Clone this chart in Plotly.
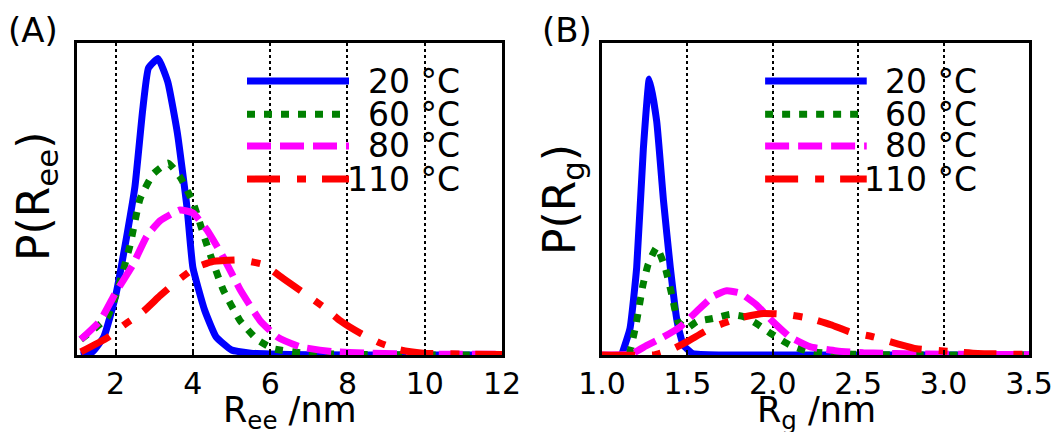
import plotly.graph_objects as go

# ---------------- Panel A : end-to-end distance ----------------
ree_20_x = [1.1, 1.4, 1.7, 2.0, 2.3, 2.5, 2.7, 2.85, 3.1, 3.35, 3.6, 3.85, 4.0, 4.3, 4.6, 5.0, 5.5, 6.0, 7.0, 8.0, 10.0, 12.0]
ree_20_y = [0.0, 0.01, 0.06, 0.19, 0.39, 0.54, 0.785, 0.92, 0.95, 0.875, 0.71, 0.47, 0.28, 0.145, 0.058, 0.016, 0.006, 0.003, 0.001, 0.0, 0.0, 0.0]

ree_60_x = [1.1, 1.78, 2.03, 2.37, 2.63, 2.97, 3.36, 3.67, 4.0, 4.37, 4.78, 5.22, 5.66, 6.08, 6.8, 8.0, 10.0, 12.0]
ree_60_y = [0.05, 0.12, 0.2, 0.35, 0.5, 0.58, 0.615, 0.57, 0.49, 0.35, 0.21, 0.11, 0.05, 0.02, 0.007, 0.002, 0.0, 0.0]

ree_80_x = [1.1, 1.6, 2.0, 2.45, 2.8, 3.15, 3.67, 4.0, 4.37, 4.78, 5.22, 5.74, 6.18, 6.78, 7.6, 8.5, 10.0, 12.0]
ree_80_y = [0.05, 0.11, 0.2, 0.29, 0.38, 0.43, 0.465, 0.455, 0.4, 0.315, 0.21, 0.11, 0.058, 0.026, 0.011, 0.006, 0.003, 0.002]

ree_110_x = [1.1, 1.78, 2.2, 2.72, 3.15, 3.62, 4.06, 4.53, 5.22, 5.82, 6.34, 6.86, 7.37, 7.81, 8.33, 8.85, 9.37, 9.96, 11.0, 12.0]
ree_110_y = [0.01, 0.055, 0.095, 0.14, 0.19, 0.24, 0.28, 0.3, 0.305, 0.29, 0.245, 0.2, 0.155, 0.11, 0.07, 0.038, 0.016, 0.006, 0.003, 0.002]

# ---------------- Panel B : radius of gyration ----------------
rg_20_x = [1.115, 1.164, 1.203, 1.242, 1.277, 1.32, 1.36, 1.40, 1.44, 1.476, 1.53, 1.7, 2.5, 3.5]
rg_20_y = [0.0, 0.085, 0.28, 0.66, 0.885, 0.75, 0.495, 0.28, 0.107, 0.032, 0.005, 0.0, 0.0, 0.0]

rg_60_x = [1.16, 1.2, 1.24, 1.27, 1.32, 1.37, 1.41, 1.445, 1.496, 1.555, 1.65, 1.75, 1.83, 1.906, 2.0, 2.1, 2.2, 2.33, 2.6, 3.5]
rg_60_y = [0.0, 0.1, 0.225, 0.29, 0.345, 0.28, 0.19, 0.107, 0.085, 0.107, 0.117, 0.13, 0.123, 0.1, 0.065, 0.032, 0.013, 0.005, 0.001, 0.0]

rg_80_x = [1.0, 1.17, 1.26, 1.36, 1.457, 1.555, 1.65, 1.73, 1.81, 1.906, 2.0, 2.1, 2.22, 2.375, 2.53, 2.9, 3.5]
rg_80_y = [0.0, 0.003, 0.03, 0.058, 0.09, 0.14, 0.188, 0.206, 0.198, 0.16, 0.107, 0.058, 0.026, 0.013, 0.007, 0.003, 0.001]

rg_110_x = [1.0, 1.3, 1.4, 1.496, 1.633, 1.79, 1.945, 2.08, 2.22, 2.34, 2.45, 2.59, 2.73, 2.84, 3.0, 3.2, 3.5]
rg_110_y = [0.0, 0.0, 0.016, 0.042, 0.085, 0.117, 0.133, 0.13, 0.117, 0.097, 0.074, 0.058, 0.036, 0.02, 0.013, 0.005, 0.002]

labels = ["20 °C", "60 °C", "80 °C", "110 °C"]
colors = ["#0000ff", "#008000", "#ff00ff", "#ff0000"]
dashes = ["solid", "8px,9px", "24px,9px", "33px,17px,9px,16px"]

xA_ticks = [2, 4, 6, 8, 10, 12]
xB_ticks = [1.0, 1.5, 2.0, 2.5, 3.0, 3.5]
xB_ticktext = ["1.0", "1.5", "2.0", "2.5", "3.0", "3.5"]

FONT = "DejaVu Sans"
LW = 7

fig = go.Figure()
seriesA = [(ree_20_x, ree_20_y), (ree_60_x, ree_60_y), (ree_80_x, ree_80_y), (ree_110_x, ree_110_y)]
seriesB = [(rg_20_x, rg_20_y), (rg_60_x, rg_60_y), (rg_80_x, rg_80_y), (rg_110_x, rg_110_y)]
for i, (xs, ys) in enumerate(seriesA):
    fig.add_trace(go.Scatter(x=xs, y=ys, mode="lines", name=labels[i], showlegend=False,
                             line=dict(color=colors[i], width=LW, dash=dashes[i], shape="spline", smoothing=0.4),
                             xaxis="x", yaxis="y"))
for i, (xs, ys) in enumerate(seriesB):
    fig.add_trace(go.Scatter(x=xs, y=ys, mode="lines", name=labels[i], showlegend=False,
                             line=dict(color=colors[i], width=LW, dash=dashes[i], shape="spline", smoothing=0.4),
                             xaxis="x2", yaxis="y2"))

W, H = 1062, 432
A_dom = [77 / W, 502 / W]
B_dom = [602 / W, 1029 / W]
Y_dom = [(H - 355) / H, (H - 43) / H]

axis_common = dict(showline=True, linecolor="black", linewidth=3, mirror=True, automargin=False,
                   ticks="inside", ticklen=5, tickwidth=1.5, tickcolor="black",
                   showgrid=True, gridcolor="black", gridwidth=1.5, griddash="3px,3px",
                   zeroline=False, tickfont=dict(family=FONT, size=30, color="black"))
yaxis_common = dict(domain=Y_dom, range=[0, 1.0], showticklabels=False, showline=True, linecolor="black",
                    linewidth=3, mirror=True, showgrid=False, zeroline=False, ticks="", automargin=False)

fig.update_layout(
    width=W, height=H,
    margin=dict(l=0, r=0, t=0, b=0, autoexpand=False),
    paper_bgcolor="white", plot_bgcolor="white",
    xaxis=dict(domain=A_dom, range=[1, 12], tickvals=xA_ticks, anchor="y", **axis_common),
    yaxis=dict(anchor="x", **yaxis_common),
    xaxis2=dict(domain=B_dom, range=[1.0, 3.5], tickvals=xB_ticks, ticktext=xB_ticktext, anchor="y2", **axis_common),
    yaxis2=dict(anchor="x2", **yaxis_common),
)

# legend samples and texts (drawn manually to match the long sample lines)
rows = [0.878, 0.772, 0.67, 0.564]
legA = dict(x0=0.40, x1=0.64, tx=0.906, xref="x domain", yref="y domain")
legB = dict(x0=0.382, x1=0.62, tx=0.883, xref="x2 domain", yref="y2 domain")
for leg in (legA, legB):
    for i in range(4):
        fig.add_shape(type="line", xref=leg["xref"], yref=leg["yref"], x0=leg["x0"], x1=leg["x1"],
                      y0=rows[i], y1=rows[i], line=dict(color=colors[i], width=LW, dash=dashes[i]))
        fig.add_annotation(xref=leg["xref"], yref=leg["yref"], x=leg["tx"], y=rows[i], text=labels[i],
                           showarrow=False, xanchor="right", yanchor="middle",
                           font=dict(family=FONT, size=33, color="black"))

# axis titles and panel labels
fig.add_annotation(xref="paper", yref="paper", x=290 / W, y=(H - 412) / H, text="R<sub>ee</sub> /nm",
                   showarrow=False, xanchor="center", yanchor="middle", font=dict(family=FONT, size=35, color="black"))
fig.add_annotation(xref="paper", yref="paper", x=816 / W, y=(H - 412) / H, text="R<sub>g</sub> /nm",
                   showarrow=False, xanchor="center", yanchor="middle", font=dict(family=FONT, size=35, color="black"))
fig.add_annotation(xref="paper", yref="paper", x=36 / W, y=(H - 197) / H, text="P(R<sub>ee</sub>)", textangle=-90,
                   showarrow=False, xanchor="center", yanchor="middle", font=dict(family=FONT, size=44, color="black"))
fig.add_annotation(xref="paper", yref="paper", x=563 / W, y=(H - 200) / H, text="P(R<sub>g</sub>)", textangle=-90,
                   showarrow=False, xanchor="center", yanchor="middle", font=dict(family=FONT, size=44, color="black"))
fig.add_annotation(xref="paper", yref="paper", x=33 / W, y=(H - 30) / H, text="(A)",
                   showarrow=False, xanchor="center", yanchor="middle", font=dict(family=FONT, size=34, color="black"))
fig.add_annotation(xref="paper", yref="paper", x=567 / W, y=(H - 30) / H, text="(B)",
                   showarrow=False, xanchor="center", yanchor="middle", font=dict(family=FONT, size=34, color="black"))

fig.write_html("out.html", config={"displayModeBar": False},
               post_script="document.body.style.margin='0';document.body.style.padding='0';"
                           "document.body.style.overflow='hidden';")
